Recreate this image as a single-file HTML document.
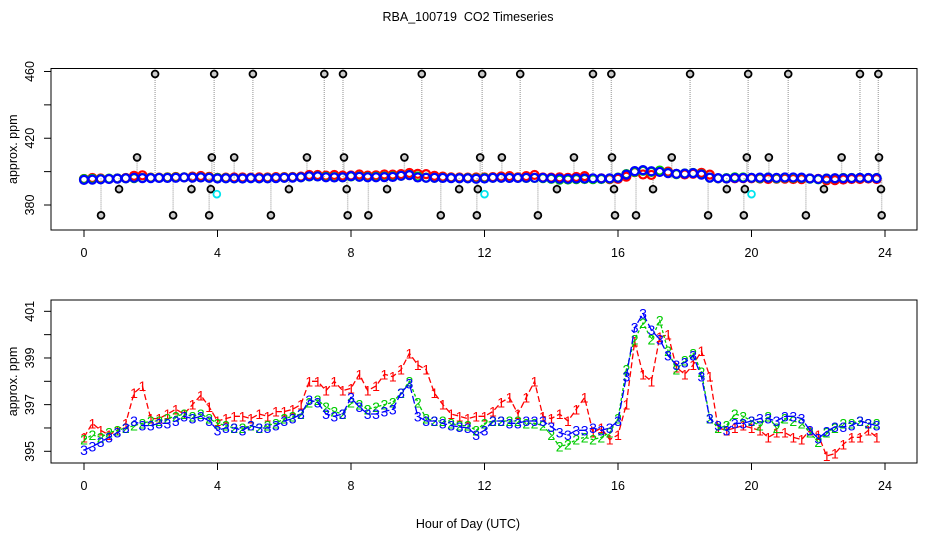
<!DOCTYPE html>
<html><head><meta charset="utf-8"><style>
html,body{margin:0;padding:0;background:#fff;}
svg{display:block;font-family:"Liberation Sans",sans-serif;}
</style></head><body>
<svg id="chart" width="936" height="540" viewBox="0 0 936 540" xmlns="http://www.w3.org/2000/svg">
<text x="468" y="21" font-size="12.5" text-anchor="middle">RBA_100719&#160; CO2 Timeseries</text>
<text x="468" y="528" font-size="12.5" text-anchor="middle">Hour of Day (UTC)</text>
<g id="top"></g>
<g id="bot"></g>
</svg>
<script>
// ---- data ----
const hours = [];
for (let i = 0; i < 96; i++) hours.push(i * 0.25);
const series1 = [395.6,396.2,395.9,395.7,395.9,396.2,397.5,397.8,396.4,396.4,396.6,396.8,396.6,397.0,397.4,396.9,
396.3,396.4,396.5,396.5,396.4,396.6,396.5,396.7,396.7,396.8,397.0,398.0,398.0,397.6,398.0,397.6,
397.7,398.3,397.6,397.8,398.3,398.2,398.5,399.2,398.7,398.5,397.5,397.0,396.6,396.5,396.4,396.5,
396.5,396.7,397.1,397.3,396.6,397.3,398.0,396.5,396.4,396.6,396.3,396.8,397.3,395.8,396.0,395.5,
395.7,397.0,399.7,398.3,398.0,399.9,400.0,398.6,398.3,398.7,399.3,398.2,396.0,395.9,396.0,396.1,
396.0,395.9,395.6,395.8,395.8,395.6,395.5,395.9,395.7,394.8,394.9,395.3,395.6,395.6,395.9,395.6];
const series2 = [395.5,395.7,395.6,395.8,395.9,396.0,396.1,396.2,396.3,396.3,396.4,396.5,396.6,396.5,396.6,396.4,
396.2,396.1,396.0,396.0,396.1,396.0,396.1,396.2,396.4,396.5,396.6,397.1,397.2,396.9,396.7,396.6,
397.1,397.0,396.8,396.9,397.0,397.1,397.5,398.0,397.1,396.4,396.3,396.3,396.2,396.1,396.1,395.9,
396.2,396.3,396.3,396.3,396.3,396.2,396.2,396.1,395.7,395.2,395.3,395.5,395.6,395.5,395.6,395.8,
396.4,398.5,399.8,400.5,399.8,400.6,399.3,398.5,398.9,399.2,398.4,396.4,396.0,396.1,396.6,396.5,
396.3,396.1,396.5,396.0,396.4,396.3,396.2,395.8,395.4,395.8,396.0,396.2,396.2,396.3,396.2,396.2];
const series3 = [395.05,395.2,395.4,395.6,395.8,396.0,396.3,396.1,396.1,396.2,396.2,396.3,396.5,396.4,396.5,396.3,
395.9,396.0,396.0,395.9,396.1,396.0,396.0,396.1,396.3,396.4,396.6,397.2,397.1,396.6,396.5,396.6,
397.3,396.9,396.6,396.6,396.7,396.8,397.5,397.9,396.5,396.3,396.3,396.2,396.1,396.05,396.0,395.7,
395.9,396.3,396.3,396.2,396.2,396.3,396.3,396.3,396.05,395.8,395.7,395.9,395.9,396.0,395.9,396.0,
396.3,398.2,400.3,400.9,400.2,399.8,399.1,398.7,398.8,399.1,398.2,396.4,396.1,395.9,396.2,396.2,
396.3,396.4,396.4,396.3,396.5,396.5,396.4,395.9,395.55,395.85,396.05,396.05,396.1,396.3,396.2,396.1];
const outlierHours = [2.13,3.9,5.06,7.2,7.76,10.12,11.93,13.07,15.25,15.8,18.16,19.9,21.1,23.25,23.8,
1.59,3.83,4.5,6.68,7.79,9.6,11.87,12.52,14.68,15.82,17.61,19.86,20.52,22.7,23.82,
1.05,3.22,3.8,6.14,7.87,9.08,11.24,11.8,14.17,15.88,17.05,19.26,19.8,22.17,23.88,
0.51,2.67,3.75,5.6,7.9,8.52,10.69,11.77,13.6,15.91,16.54,18.7,19.77,21.63,23.9];
const outlierValues = [458.5,458.5,458.5,458.5,458.5,458.5,458.5,458.5,458.5,458.5,458.5,458.5,458.5,458.5,458.5,
408.5,408.5,408.5,408.5,408.5,408.5,408.5,408.5,408.5,408.5,408.5,408.5,408.5,408.5,408.5,
389.5,389.5,389.5,389.5,389.5,389.5,389.5,389.5,389.5,389.5,389.5,389.5,389.5,389.5,389.5,
373.8,373.8,373.8,373.8,373.8,373.8,373.8,373.8,373.8,373.8,373.8,373.8,373.8,373.8,373.8];
const cyanHours = [3.98, 12.0, 20.0];
const cyanValues = [386.5, 386.5, 386.5];
const xTicks = [0,4,8,12,16,20,24];
const topYTicks = [380,400,420,440,460];
const topYLabels = [380,420,460];
const botYTicks = [395,396,397,398,399,400,401];
const botYLabels = [395,397,399,401];

// ---- helpers ----
const NS = "http://www.w3.org/2000/svg";
function mk(parent, tag, attrs, text) {
  const e = document.createElementNS(NS, tag);
  for (const k in attrs) e.setAttribute(k, attrs[k]);
  if (text !== undefined) e.textContent = text;
  parent.appendChild(e);
  return e;
}
const L = 51, R = 917;
const xs = h => 84 + h * 33.375;

function axes(g, top, bottom, ys, yT, yL, prefix) {
  const box = mk(g, 'rect', {x:L, y:top, width:R-L, height:bottom-top, fill:'none', stroke:'#000', 'stroke-width':1});
  
  
  xTicks.forEach(t => {
    const tl = mk(g, 'line', {x1:xs(t), x2:xs(t), y1:bottom, y2:bottom+7, stroke:'#000'});
    
    
    const tx = mk(g, 'text', {x:xs(t), y:bottom+27, 'font-size':12.5, 'text-anchor':'middle'}, String(t));
    
    
  });
  yT.forEach(v => {
    const tl = mk(g, 'line', {x1:L-7, x2:L, y1:ys(v), y2:ys(v), stroke:'#000'});
    
    
  });
  yL.forEach(v => {
    const tx = mk(g, 'text', {x:0, y:0, 'font-size':12.5, 'text-anchor':'middle', transform:`translate(34,${ys(v)}) rotate(-90)`}, String(v));
    
    
  });
  const yt = mk(g, 'text', {x:0, y:0, 'font-size':12.5, 'text-anchor':'middle', transform:`translate(17,${(top+bottom)/2}) rotate(-90)`}, 'approx. ppm');
  
  
}

// ---- top panel ----
const gt = document.getElementById('top');
const ysT = v => 205 - (v - 380) * 1.669;
axes(gt, 68.5, 230, ysT, topYTicks, topYLabels, 'top');
outlierHours.forEach((h, i) => {
  const ln = mk(gt, 'line', {x1:xs(h), x2:xs(h), y1:ysT(outlierValues[i]), y2:ysT(396), stroke:'#b0b0b0', 'stroke-width':1.4, 'stroke-dasharray':'1 1'});
  
  
});
[[series1,'#ff0000'],[series2,'#00cc00'],[series3,'#0000ff']].forEach(([s, c], k) => {
  s.forEach((v, i) => {
    const ci = mk(gt, 'circle', {cx:xs(hours[i]), cy:ysT(v), r:4, fill:'none', stroke:c, 'stroke-width':2.2});
    
    
  });
});
outlierHours.forEach((h, i) => {
  const ci = mk(gt, 'circle', {cx:xs(h), cy:ysT(outlierValues[i]), r:3.4, fill:'#ccc', stroke:'#000', 'stroke-width':1.8});
  
  
});
cyanHours.forEach((h, i) => {
  const ci = mk(gt, 'circle', {cx:xs(h), cy:ysT(cyanValues[i]), r:3.4, fill:'#fff', stroke:'#00e5ee', 'stroke-width':1.8});
  
  
});

// ---- bottom panel ----
const gb = document.getElementById('bot');
const ysB = v => 451.3 - (v - 395) * 23.33;
axes(gb, 300, 463, ysB, botYTicks, botYLabels, 'bottom');
[[series1,'#ff0000','1','6 3'],[series2,'#00cc00','2','3 2'],[series3,'#0000ff','3','8 3']].forEach(([s, c, lab, dash], k) => {
  const pts = s.map((v, i) => xs(hours[i]).toFixed(1) + ',' + ysB(v).toFixed(1)).join(' ');
  const pl = mk(gb, 'polyline', {points:pts, fill:'none', stroke:c, 'stroke-width':1.3, 'stroke-dasharray':dash});
  
  
  s.forEach((v, i) => {
    const t = mk(gb, 'text', {x:xs(hours[i]), y:ysB(v)+5, 'font-size':14, fill:c, 'text-anchor':'middle'}, lab);
    
    
  });
});
</script>
</body></html>
